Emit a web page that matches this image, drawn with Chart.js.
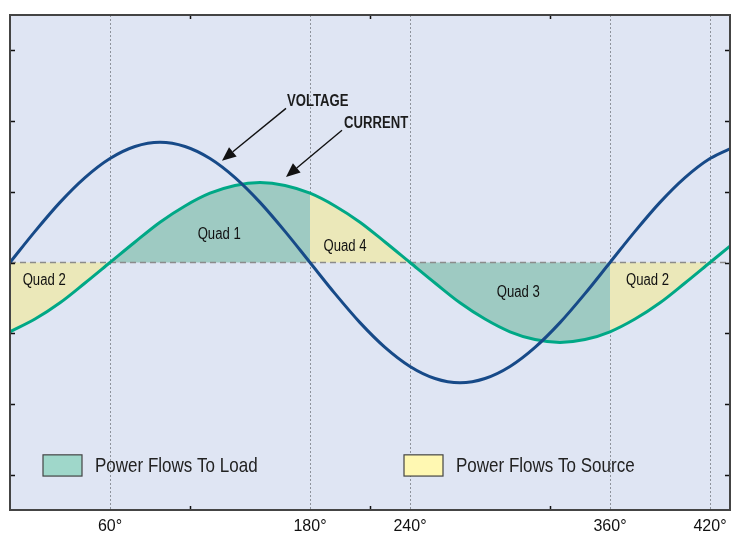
<!DOCTYPE html>
<html>
<head>
<meta charset="utf-8">
<script src="https://cdn.jsdelivr.net/npm/chart.js@4.4.1/dist/chart.umd.min.js"></script>
<style>
  body { margin: 0; background: #fff; }
  canvas { display: block; }
</style>
</head>
<body>
<canvas id="waveChart" width="736" height="540"></canvas>
<script>
// angle samples (degrees)
const angles  = [0, 15, 30, 45, 60, 75, 90, 105, 120, 135, 150, 165, 180, 195, 210, 225, 240, 255, 270, 285, 300, 315, 330, 345, 360, 375, 390, 405, 420, 435];
const voltage = [0, 0.44, 0.85, 1.20, 1.47, 1.64, 1.70, 1.64, 1.47, 1.20, 0.85, 0.44, 0, -0.44, -0.85, -1.20, -1.47, -1.64, -1.70, -1.64, -1.47, -1.20, -0.85, -0.44, 0, 0.44, 0.85, 1.20, 1.47, 1.64];
const current = [-0.98, -0.80, -0.57, -0.29, 0, 0.29, 0.57, 0.80, 0.98, 1.09, 1.13, 1.09, 0.98, 0.80, 0.57, 0.29, 0, -0.29, -0.57, -0.80, -0.98, -1.09, -1.13, -1.09, -0.98, -0.80, -0.57, -0.29, 0, 0.29];

const axisLabels  = [60, 180, 240, 360, 420];
const frameTicksX = [108, 216, 324];
const frameTicksY = [-3, -2, -1, 0, 1, 2, 3];

// [from, to, kind]
const quadRanges = [[0, 60, 'source'], [60, 180, 'load'], [180, 240, 'source'], [240, 360, 'load'], [360, 420, 'source']];
// [text, angle, value]
const quadLabels = [['Quad 2', 20.5, -0.25], ['Quad 1', 125.5, 0.40], ['Quad 4', 201, 0.22], ['Quad 3', 305, -0.42], ['Quad 2', 382.5, -0.25]];

const FONT = '"Liberation Sans", Arial, sans-serif';
const SQUEEZE = 0.82; // the original lettering is condensed
const COL = {
    bg: '#dfe5f3', volt: '#174a88', curr: '#00a886',
    load: '#9ecac2', source: '#ebe8b9',
    loadKey: '#9fd7ca', sourceKey: '#fff8b2'
};

const pts = (ys) => angles.map((a, i) => ({ x: a, y: ys[i] }));

const fillSets = quadRanges.map(r => ({
    data: pts(current).filter(p => p.x >= r[0] && p.x <= r[1]),
    borderWidth: 0,
    pointRadius: 0,
    fill: 'origin',
    backgroundColor: r[2] === 'load' ? COL.load : COL.source,
    cubicInterpolationMode: 'monotone',
    order: 10
}));

function narrowText(ctx, text, x, y, font, align, sx) {
    ctx.save();
    ctx.translate(x, y);
    ctx.scale(sx || SQUEEZE, 1);
    ctx.font = font;
    ctx.textAlign = align;
    ctx.textBaseline = 'middle';
    ctx.fillText(text, 0, 0);
    ctx.restore();
}

const frameAndNotes = {
    id: 'frameAndNotes',
    beforeDraw(chart) {
        const { ctx, chartArea: a } = chart;
        ctx.save();
        ctx.fillStyle = COL.bg;
        ctx.fillRect(a.left, a.top, a.width, a.height);
        ctx.restore();
    },
    afterDraw(chart) {
        const { ctx, chartArea: a, scales: { x, y } } = chart;
        const px = v => x.getPixelForValue(v), py = v => y.getPixelForValue(v);
        ctx.save();

        // inward tick marks on the frame
        ctx.strokeStyle = '#111'; ctx.lineWidth = 1.5;
        ctx.beginPath();
        frameTicksX.forEach(v => {
            const xx = Math.round(px(v)) + 0.5;
            ctx.moveTo(xx, a.bottom); ctx.lineTo(xx, a.bottom - 4);
            ctx.moveTo(xx, a.top); ctx.lineTo(xx, a.top + 4);
        });
        frameTicksY.forEach(v => {
            const yy = Math.round(py(v)) + 0.5;
            ctx.moveTo(a.left, yy); ctx.lineTo(a.left + 5, yy);
            ctx.moveTo(a.right, yy); ctx.lineTo(a.right - 5, yy);
        });
        ctx.stroke();

        // frame
        ctx.lineWidth = 2; ctx.strokeStyle = '#444';
        ctx.strokeRect(a.left, a.top, a.width, a.height);

        // quad labels
        ctx.fillStyle = '#111';
        quadLabels.forEach(q => narrowText(ctx, q[0], px(q[1]), py(q[2]), '16px ' + FONT, 'center'));

        // arrows with captions
        const arrow = (x1, y1, x2, y2) => {
            const ang = Math.atan2(y2 - y1, x2 - x1), L = 14, W = 6;
            const bx = x2 - L * Math.cos(ang), by = y2 - L * Math.sin(ang);
            ctx.strokeStyle = '#111'; ctx.lineWidth = 1.4;
            ctx.beginPath(); ctx.moveTo(x1, y1); ctx.lineTo(bx, by); ctx.stroke();
            ctx.fillStyle = '#111';
            ctx.beginPath();
            ctx.moveTo(x2, y2);
            ctx.lineTo(bx + W * Math.sin(ang), by - W * Math.cos(ang));
            ctx.lineTo(bx - W * Math.sin(ang), by + W * Math.cos(ang));
            ctx.closePath(); ctx.fill();
        };
        arrow(px(165.6), py(2.18), px(127.2), py(1.44));
        arrow(px(199.2), py(1.87), px(165.6), py(1.21));
        ctx.fillStyle = '#1c1c1c';
        narrowText(ctx, 'VOLTAGE', px(166.2), py(2.28), 'bold 16px ' + FONT, 'left');
        narrowText(ctx, 'CURRENT', px(200.4), py(1.96), 'bold 16px ' + FONT, 'left');

        // key
        const key = (x0, x1, text, fillCol) => {
            const l = px(x0), r = px(x1), t = py(-2.72), b = py(-3.02);
            ctx.fillStyle = fillCol; ctx.fillRect(l, t, r - l, b - t);
            ctx.strokeStyle = '#444'; ctx.lineWidth = 1.2; ctx.strokeRect(l, t, r - l, b - t);
            ctx.fillStyle = '#222';
            narrowText(ctx, text, r + 13, (t + b) / 2 + 1, '21px ' + FONT, 'left', 0.81);
        };
        key(19.8, 43.2, 'Power Flows To Load', COL.loadKey);
        key(236.4, 259.8, 'Power Flows To Source', COL.sourceKey);

        ctx.restore();
    }
};

new Chart(document.getElementById('waveChart'), {
    type: 'line',
    data: {
        datasets: [
            { label: 'Voltage', data: pts(voltage), borderColor: COL.volt, borderWidth: 3, pointRadius: 0, fill: false, cubicInterpolationMode: 'monotone', order: 0 },
            { label: 'Current', data: pts(current), borderColor: COL.curr, borderWidth: 3, pointRadius: 0, fill: false, cubicInterpolationMode: 'monotone', order: 1 },
            { label: 'Zero', data: [{ x: 0, y: 0 }, { x: 432, y: 0 }], borderColor: '#8b8b8b', borderWidth: 1.3, borderDash: [6, 4], pointRadius: 0, fill: false, order: 2 },
            ...fillSets
        ]
    },
    options: {
        responsive: false,
        animation: false,
        layout: { padding: { left: 10, right: 6, top: 15, bottom: 0 } },
        plugins: { legend: { display: false }, tooltip: { enabled: false } },
        scales: {
            x: {
                type: 'linear', min: 0, max: 432,
                afterBuildTicks: s => { s.ticks = axisLabels.map(v => ({ value: v })); },
                afterFit: s => { s.height = 30; },
                ticks: { callback: v => v + '°', color: '#111', font: { family: FONT, size: 16 }, padding: 7, maxRotation: 0, autoSkip: false },
                grid: { color: '#8e939c', lineWidth: 1, drawTicks: false },
                border: { display: false, dash: [2, 2] }
            },
            y: { display: false, min: -3.5, max: 3.5 }
        }
    },
    plugins: [frameAndNotes]
});
</script>
</body>
</html>
